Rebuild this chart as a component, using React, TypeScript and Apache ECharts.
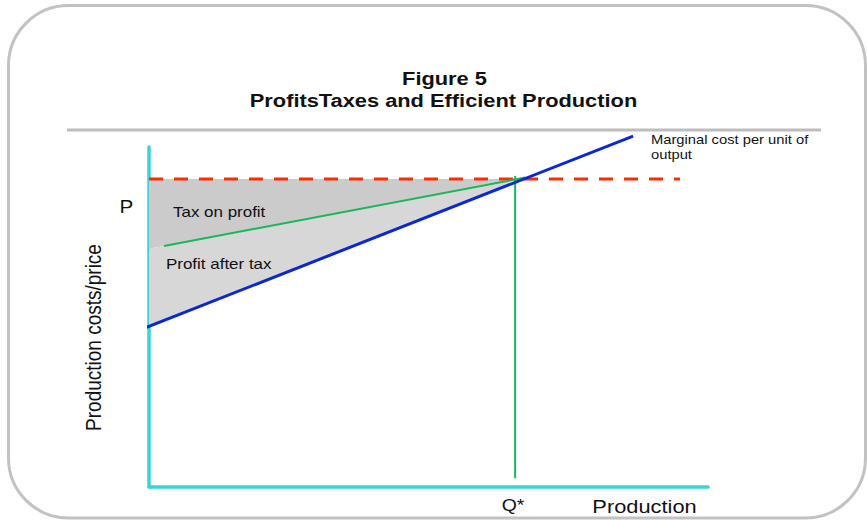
import React, { useEffect, useRef } from "react";
import * as echarts from "echarts";

// ---- data (chart units: x 0..100 production, y 0..100 cost/price) ----
const xRange = [0, 100];
const yRange = [0, 100];
const priceLevel = 90.6; // P
const quantityStar = 65.5; // Q*
const priceLineX = [0, 95];
const marginalCostX = [-1.2, 86.6];
const marginalCostY = [46.5, 103.2];
const afterTaxX = [2.7, 67.3];
const afterTaxY = [70.9, 91.0];
const qStarLineY = [2.6, 91.5];
const taxRegion = [
  [0, 90.6],
  [67.1, 90.6],
  [0, 70.1],
];
const profitRegion = [
  [0, 70.1],
  [67.1, 90.6],
  [0, 47.3],
];
const titleLines = ["Figure 5", "ProfitsTaxes and Efficient Production"];
const mcLabel = ["Marginal cost per unit of", "output"];

const FONT = "'Liberation Sans', Arial, sans-serif";
const SX = 1.18;

function zip(xs: number[], ys: number[]) {
  return xs.map((x, i) => [x, ys[i]]);
}

export default function App() {
  const ref = useRef<HTMLDivElement>(null);

  useEffect(() => {
    if (!ref.current) return;
    const chart = echarts.init(ref.current, undefined, { renderer: "svg" });

    const polygonSeries = (pts: number[][], fill: string, z: number) => ({
      type: "custom",
      silent: true,
      z,
      data: [pts[0]],
      renderItem: (_p: any, api: any) => ({
        type: "polygon",
        shape: { points: pts.map((p) => api.coord(p)) },
        style: { fill, stroke: "none" },
      }),
    });

    const text = (
      t: string,
      x: number,
      y: number,
      size: number,
      opts: any = {}
    ) => ({
      type: "text",
      x,
      y,
      scaleX: opts.scaleX ?? SX,
      scaleY: opts.scaleY ?? 1,
      rotation: opts.rotation ?? 0,
      z: 100,
      style: {
        text: t,
        fill: "#111111",
        font: `${opts.bold ? "bold " : ""}${size}px ${FONT}`,
        align: opts.align ?? "center",
        verticalAlign: "middle",
      },
    });

    chart.setOption({
      animation: false,
      backgroundColor: "#ffffff",
      grid: { left: 149, right: 159, top: 147, bottom: 33 },
      xAxis: {
        type: "value",
        min: xRange[0],
        max: xRange[1],
        axisLine: { show: true, lineStyle: { color: "#3dd3d3", width: 3.5 } },
        axisTick: { show: false },
        axisLabel: { show: false },
        splitLine: { show: false },
      },
      yAxis: {
        type: "value",
        min: yRange[0],
        max: yRange[1],
        axisLine: { show: true, lineStyle: { color: "#3dd3d3", width: 3.5 } },
        axisTick: { show: false },
        axisLabel: { show: false },
        splitLine: { show: false },
      },
      series: [
        polygonSeries(taxRegion, "#cbcbcb", 1),
        polygonSeries(profitRegion, "#d7d7d7", 1),
        {
          type: "line",
          silent: true,
          z: 3,
          symbol: "none",
          data: zip(priceLineX, [priceLevel, priceLevel]),
          lineStyle: { color: "#ff2a00", width: 3, type: [14, 11] },
        },
        {
          type: "line",
          silent: true,
          z: 4,
          symbol: "none",
          data: zip(afterTaxX, afterTaxY),
          lineStyle: { color: "#16b85a", width: 2 },
        },
        {
          type: "line",
          silent: true,
          z: 4,
          symbol: "none",
          data: zip([quantityStar, quantityStar], qStarLineY),
          lineStyle: { color: "#16b85a", width: 2 },
        },
        {
          type: "line",
          silent: true,
          z: 5,
          clip: false,
          symbol: "none",
          data: zip(marginalCostX, marginalCostY),
          lineStyle: { color: "#0a26d8", width: 3 },
        },
      ],
      graphic: [
        {
          type: "rect",
          z: -10,
          shape: { x: 8.5, y: 5.5, width: 857, height: 512.5, r: 60 },
          style: { fill: "none", stroke: "#c2c2c2", lineWidth: 3 },
        },
        {
          type: "line",
          z: 0,
          shape: { x1: 67, y1: 130, x2: 821, y2: 130 },
          style: { stroke: "#bdbdbd", lineWidth: 3 },
        },
        text(titleLines[0], 444.5, 78.5, 18.5, { bold: true }),
        text(titleLines[1], 443.5, 100.5, 18.5, { bold: true }),
        text(mcLabel[0], 651, 140, 12.5, { align: "left" }),
        text(mcLabel[1], 651, 155, 12.5, { align: "left" }),
        text("P", 126.5, 207, 17.5),
        text("Tax on profit", 173, 212, 14.5, { align: "left", scaleX: 1.17 }),
        text("Profit after tax", 166, 264, 14.5, { align: "left", scaleX: 1.17 }),
        text("Production costs/price", 93, 337.5, 19, {
          rotation: Math.PI / 2,
          scaleX: 1,
          scaleY: SX,
        }),
        text("Q*", 513, 505.5, 16.5),
        text("Production", 644.5, 506.5, 18.5),
      ],
    });

    return () => chart.dispose();
  }, []);

  return (
    <div
      ref={ref}
      style={{ position: "fixed", left: 0, top: 0, width: 867, height: 520 }}
    />
  );
}
